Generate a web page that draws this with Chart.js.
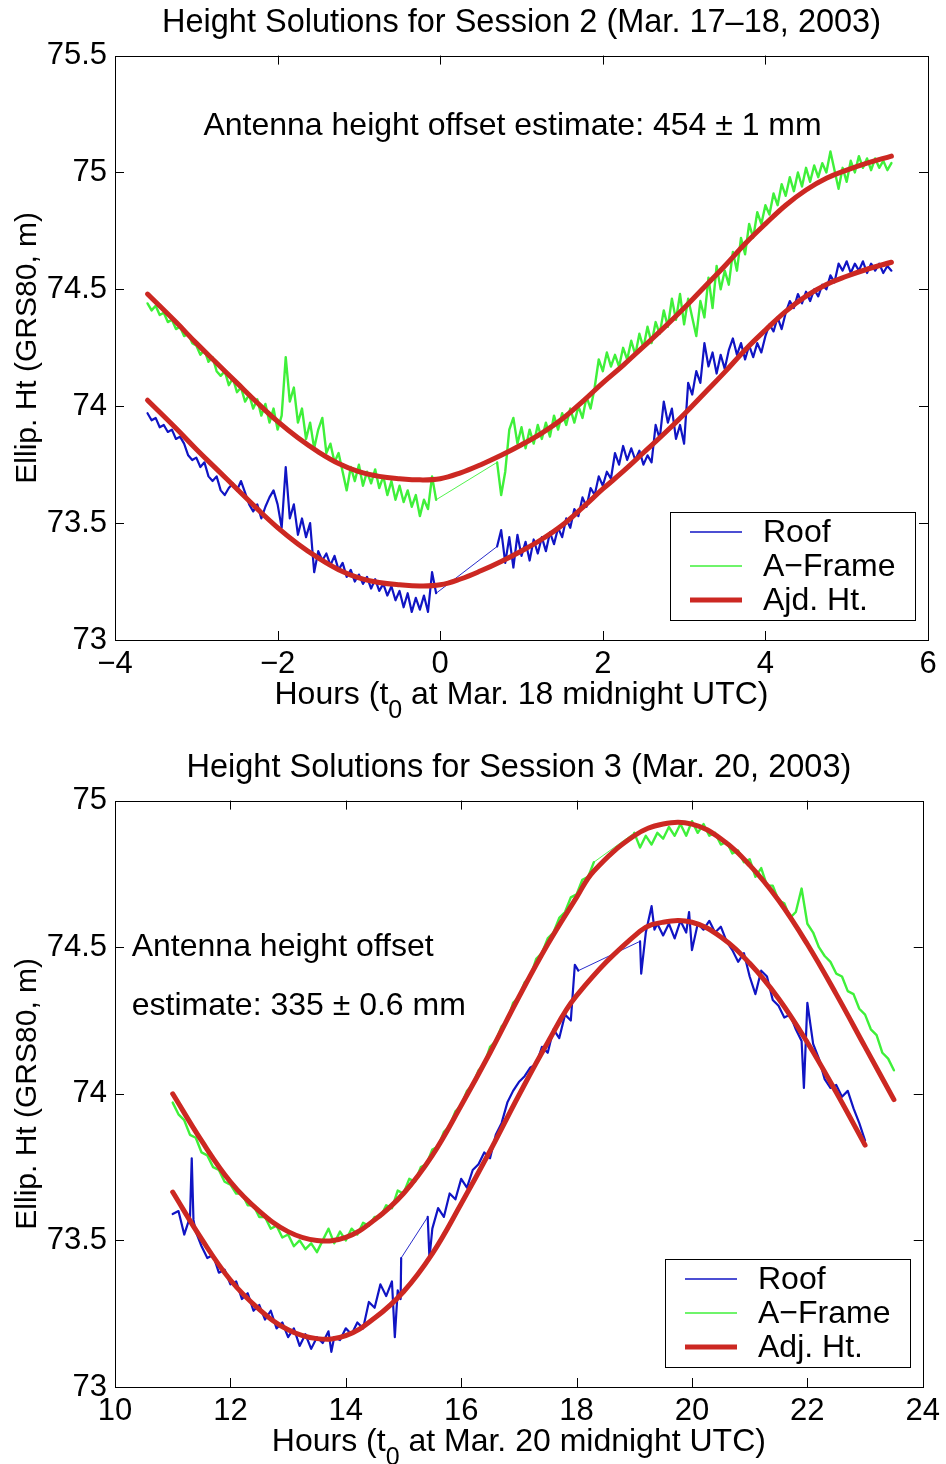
<!DOCTYPE html>
<html>
<head>
<meta charset="utf-8">
<script src="https://cdn.jsdelivr.net/npm/chart.js@4.4.1/dist/chart.umd.min.js"></script>
<style>
html,body{margin:0;padding:0;background:#fff;}
#wrap{position:relative;width:946px;height:1464px;overflow:hidden;}
.box{position:absolute;left:0;width:946px;height:732px;}
canvas{display:block;}
</style>
</head>
<body>
<div id="wrap">
  <div class="box" style="top:0"><canvas id="c1" width="946" height="732"></canvas></div>
  <div class="box" style="top:732px"><canvas id="c2" width="946" height="732"></canvas></div>
</div>
<script>
// ================= Session 2 (Mar. 17-18, 2003) =================
const s2Hours = [
 -3.6,-3.55,-3.5,-3.45,-3.4,-3.35,-3.3,-3.25,-3.2,-3.15,
 -3.1,-3.05,-3,-2.95,-2.9,-2.85,-2.8,-2.75,-2.7,-2.65,
 -2.6,-2.55,-2.5,-2.45,-2.4,-2.35,-2.3,-2.25,-2.2,-2.15,
 -2.1,-2.05,-2,-1.95,-1.9,-1.85,-1.8,-1.75,-1.7,-1.65,
 -1.6,-1.55,-1.5,-1.45,-1.4,-1.35,-1.3,-1.25,-1.2,-1.15,
 -1.1,-1.05,-1,-0.95,-0.9,-0.85,-0.8,-0.75,-0.7,-0.65,
 -0.6,-0.55,-0.5,-0.45,-0.4,-0.35,-0.3,-0.25,-0.2,-0.15,
 -0.1,-0.05,
 0.7,0.75,0.8,0.85,0.9,0.95,1,1.05,1.1,1.15,
 1.2,1.25,1.3,1.35,1.4,1.45,1.5,1.55,1.6,1.65,
 1.7,1.75,1.8,1.85,1.9,1.95,2,2.05,2.1,2.15,
 2.2,2.25,2.3,2.35,2.4,2.45,2.5,2.55,2.6,2.65,
 2.7,2.75,2.8,2.85,2.9,2.95,3,3.05,3.1,3.15,
 3.2,3.25,3.3,3.35,3.4,3.45,3.5,3.55,3.6,3.65,
 3.7,3.75,3.8,3.85,3.9,3.95,4,4.05,4.1,4.15,
 4.2,4.25,4.3,4.35,4.4,4.45,4.5,4.55,4.6,4.65,
 4.7,4.75,4.8,4.85,4.9,4.95,5,5.05,5.1,5.15,
 5.2,5.25,5.3,5.35,5.4,5.45,5.5,5.55
];
const s2AFrame = [
 74.44,74.41,74.43,74.39,74.40,74.36,74.37,74.33,74.34,74.30,
 74.31,74.27,74.26,74.22,74.24,74.19,74.21,74.15,74.13,74.15,
 74.09,74.12,74.06,74.08,74.02,74.05,73.99,74.03,73.96,74.01,
 73.93,73.99,73.90,73.96,74.21,74.02,74.08,73.93,73.99,73.86,
 73.93,73.82,73.90,73.95,73.80,73.84,73.76,73.80,73.72,73.64,
 73.74,73.68,73.75,73.66,73.72,73.67,73.73,73.65,73.70,73.62,
 73.68,73.60,73.66,73.59,73.64,73.57,73.62,73.53,73.60,73.56,
 73.70,73.60,
 73.76,73.62,73.72,73.90,73.95,73.84,73.91,73.82,73.90,73.84,
 73.92,73.86,73.93,73.87,73.96,73.90,73.97,73.92,73.99,73.93,
 74.00,73.95,74.04,73.99,74.08,74.20,74.15,74.23,74.17,74.22,
 74.17,74.25,74.20,74.28,74.22,74.31,74.25,74.34,74.27,74.36,
 74.31,74.41,74.34,74.46,74.37,74.48,74.35,74.46,74.38,74.30,
 74.45,74.38,74.55,74.42,74.60,74.50,74.58,74.52,74.66,74.58,
 74.72,74.65,74.78,74.72,74.83,74.78,74.86,74.82,74.91,74.86,
 74.95,74.90,74.98,74.92,75.00,74.94,75.02,74.96,75.03,74.98,
 75.04,75.00,75.09,75.01,74.93,75.02,74.96,75.05,75.00,75.07,
 75.02,75.06,75.01,75.06,75.02,75.05,75.01,75.04
];
const s2Roof = [
 73.97,73.94,73.95,73.91,73.92,73.89,73.90,73.86,73.87,73.84,
 73.79,73.77,73.78,73.74,73.76,73.70,73.68,73.70,73.64,73.62,
 73.65,73.67,73.64,73.68,73.63,73.58,73.55,73.58,73.52,73.57,
 73.61,73.64,73.58,73.48,73.74,73.52,73.58,73.45,73.52,73.44,
 73.50,73.29,73.38,73.34,73.37,73.32,73.36,73.30,73.33,73.27,
 73.30,73.25,73.28,73.24,73.27,73.22,73.26,73.21,73.24,73.19,
 73.23,73.17,73.21,73.14,73.20,73.12,73.18,73.13,73.19,73.12,
 73.29,73.20,
 73.40,73.47,73.33,73.44,73.31,73.45,73.36,73.42,73.34,73.43,
 73.37,73.44,73.38,73.46,73.41,73.48,73.44,73.52,73.48,73.56,
 73.53,73.61,73.57,73.65,73.62,73.70,73.66,73.72,73.69,73.80,
 73.75,73.83,73.77,73.82,73.77,73.81,73.75,73.79,73.76,73.92,
 73.86,74.02,73.93,73.99,73.86,73.92,73.84,74.10,74.05,74.15,
 74.10,74.27,74.17,74.23,74.14,74.22,74.16,74.24,74.29,74.22,
 74.27,74.20,74.26,74.21,74.27,74.23,74.30,74.35,74.32,74.38,
 74.33,74.40,74.45,74.42,74.48,74.44,74.49,74.45,74.50,74.47,
 74.52,74.50,74.56,74.53,74.61,74.58,74.62,74.57,74.61,74.58,
 74.62,74.57,74.61,74.58,74.61,74.57,74.60,74.58
];
const s2FitHours = [
 -3.6,-3.25,-3,-2.75,-2.5,-2.25,-2,-1.75,-1.5,-1.25,-1,-0.75,-0.5,-0.25,0,
 0.25,0.5,0.75,1,1.25,1.5,1.75,2,2.25,2.5,2.75,3,3.25,3.5,3.75,4,4.25,4.5,4.75,5,5.25,5.55
];
const s2FitAFrame = [
 74.48,74.36,74.27,74.185,74.10,74.015,73.935,73.865,73.805,73.755,73.72,73.70,73.69,73.685,73.69,
 73.715,73.75,73.79,73.835,73.885,73.945,74.02,74.10,74.175,74.255,74.335,74.42,74.51,74.60,74.695,74.78,74.86,74.925,74.975,75.01,75.04,75.07
];
const s2FitRoof = [
 74.026,73.906,73.816,73.731,73.646,73.561,73.481,73.411,73.351,73.301,73.266,73.246,73.236,73.231,73.236,
 73.261,73.296,73.336,73.381,73.431,73.491,73.566,73.646,73.721,73.801,73.881,73.966,74.056,74.146,74.241,74.326,74.406,74.471,74.521,74.556,74.586,74.616
];

// ================= Session 3 (Mar. 20, 2003) =================
const s3AFrameHours = [
 11,11.1,11.2,11.3,11.4,11.5,11.6,11.7,11.8,11.9,
 12,12.1,12.2,12.3,12.4,12.5,12.6,12.7,12.8,12.9,
 13,13.1,13.2,13.3,13.4,13.5,13.6,13.7,13.8,13.9,
 14,14.1,14.2,14.3,14.4,14.5,14.6,14.7,14.8,14.9,
 15,15.1,15.2,15.3,15.4,15.5,15.6,15.7,15.8,15.9,
 16,16.1,16.2,16.3,16.4,16.5,16.6,16.7,16.8,16.9,
 17,17.1,17.2,17.3,17.4,17.5,17.6,17.7,17.8,17.9,
 18,18.1,18.2,18.3,
 19,19.1,19.2,19.3,19.4,19.5,19.6,19.7,19.8,19.9,
 20,20.1,20.2,20.3,20.4,20.5,20.6,20.7,20.8,20.9,
 21,21.1,21.2,21.3,21.4,21.5,21.6,21.7,21.8,21.9,
 22,22.1,22.2,22.3,22.4,22.5,22.6,22.7,22.8,22.9,
 23,23.1,23.2,23.3,23.4,23.5
];
const s3AFrame = [
 73.97,73.93,73.91,73.86,73.85,73.80,73.79,73.75,73.74,73.70,
 73.69,73.66,73.66,73.62,73.62,73.58,73.58,73.54,73.55,73.51,
 73.52,73.48,73.50,73.47,73.49,73.46,73.50,73.54,73.49,73.53,
 73.50,73.54,73.52,73.56,73.55,73.58,73.58,73.62,73.61,73.67,
 73.66,73.71,73.70,73.75,73.76,73.81,73.82,73.87,73.89,73.94,
 73.96,74.01,74.03,74.08,74.10,74.16,74.18,74.23,74.25,74.31,
 74.33,74.38,74.40,74.46,74.48,74.53,74.55,74.60,74.62,74.67,
 74.68,74.73,74.74,74.79,
 74.89,74.84,74.88,74.85,74.89,74.87,74.91,74.88,74.92,74.88,
 74.93,74.89,74.92,74.88,74.89,74.85,74.86,74.82,74.83,74.79,
 74.80,74.74,74.77,74.71,74.71,74.66,74.65,74.60,74.62,74.70,
 74.58,74.55,74.50,74.47,74.45,74.41,74.40,74.35,74.34,74.29,
 74.27,74.22,74.20,74.14,74.12,74.08
];
const s3RoofHours = [
 11,11.1,11.2,11.3,11.33,11.36,11.4,11.5,11.6,11.7,
 11.8,11.9,12,12.1,12.2,12.3,12.4,12.5,12.6,12.7,
 12.8,12.9,13,13.1,13.2,13.3,13.4,13.5,13.6,13.7,
 13.75,13.8,13.9,14,14.1,14.2,14.3,14.4,14.5,14.6,
 14.7,14.8,14.85,14.9,14.95,14.96,15.42,15.45,15.5,15.6,
 15.7,15.8,15.9,16,16.1,16.2,16.3,16.4,16.5,16.6,
 16.7,16.8,16.9,17,17.1,17.2,17.3,17.4,17.5,17.6,
 17.7,17.8,17.9,17.97,18.03,19.1,19.12,19.2,19.3,19.35,
 19.4,19.5,19.6,19.7,19.8,19.9,19.95,20,20.1,20.2,
 20.3,20.4,20.5,20.6,20.7,20.8,20.9,21,21.1,21.2,
 21.3,21.4,21.5,21.6,21.7,21.8,21.9,21.94,22,22.1,
 22.2,22.3,22.4,22.5,22.6,22.7,22.8,22.9,23
];
const s3Roof = [
 73.59,73.60,73.52,73.58,73.78,73.57,73.53,73.48,73.44,73.45,
 73.39,73.40,73.35,73.36,73.30,73.32,73.26,73.28,73.23,73.26,
 73.20,73.22,73.17,73.20,73.14,73.18,73.13,73.17,73.15,73.19,
 73.12,73.17,73.16,73.20,73.18,73.22,73.20,73.29,73.27,73.35,
 73.31,73.36,73.17,73.33,73.30,73.44,73.58,73.44,73.54,73.61,
 73.58,73.66,73.64,73.71,73.68,73.74,73.76,73.80,73.78,73.86,
 73.90,73.97,74.01,74.04,74.06,74.09,74.10,74.16,74.14,74.22,
 74.19,74.27,74.25,74.44,74.42,74.52,74.41,74.55,74.64,74.56,
 74.58,74.54,74.58,74.53,74.59,74.55,74.62,74.49,74.58,74.56,
 74.59,74.55,74.57,74.52,74.49,74.45,74.48,74.40,74.34,74.42,
 74.40,74.32,74.30,74.26,74.27,74.22,74.18,74.02,74.31,74.17,
 74.12,74.05,74.02,74.03,73.99,74.01,73.95,73.90,73.84
];
const s3FitAFrameHours = [11,11.5,12,12.5,13,13.5,14,14.5,15,15.5,16,16.5,17,17.5,18,18.3,19,19.5,20,20.5,21,21.5,22,22.5,23,23.5];
const s3FitAFrame = [74.00,73.84,73.70,73.60,73.53,73.50,73.51,73.57,73.66,73.79,73.96,74.14,74.33,74.51,74.67,74.76,74.88,74.92,74.92,74.87,74.78,74.66,74.51,74.34,74.16,73.98];
const s3FitRoofHours = [11,11.5,12,12.5,13,13.5,14,14.5,15,15.5,16,16.5,17,17.5,18,19.1,19.5,20,20.5,21,21.5,22,22.5,23];
const s3FitRoof = [73.665,73.505,73.365,73.265,73.195,73.165,73.175,73.235,73.325,73.455,73.625,73.805,73.995,74.175,74.335,74.555,74.585,74.585,74.535,74.445,74.325,74.175,74.005,73.825];

// ================= Texts =================
const s2Title = 'Height Solutions for Session 2 (Mar. 17\u201318, 2003)';
const s3Title = 'Height Solutions for Session 3 (Mar. 20, 2003)';
const yTitle = 'Ellip. Ht (GRS80, m)';
const s2XTitle = ['Hours (t', '0', ' at Mar. 18 midnight UTC)'];
const s3XTitle = ['Hours (t', '0', ' at Mar. 20 midnight UTC)'];
const s2Legend = ['Roof', 'A\u2212Frame', 'Ajd. Ht.'];
const s3Legend = ['Roof', 'A\u2212Frame', 'Adj. Ht.'];
const s2Notes = [{text: 'Antenna height offset estimate: 454 \u00b1 1 mm', x: 0.89, y: 75.2, align: 'center'}];
const s3Notes = [
  {text: 'Antenna height offset', x: 10.29, y: 74.5, align: 'left'},
  {text: 'estimate: 335 \u00b1 0.6 mm', x: 10.29, y: 74.3, align: 'left'}
];

// ================= Styling =================
const FONT = '"Liberation Sans", Arial, Helvetica, sans-serif';
const BLUE = '#1014c4';
const GREEN = '#3ff03a';
const RED = '#cc2822';
Chart.defaults.font.family = FONT;
Chart.defaults.color = '#000';

function pts(xs, ys) { return xs.map((x, i) => ({x: x, y: ys[i]})); }

const decor = {
  id: 'decor',
  afterDraw(chart, args, o) {
    const ctx = chart.ctx, a = chart.chartArea, xs = chart.scales.x, ys = chart.scales.y;
    ctx.save();
    // legend box
    const L = o.legend;
    const bx = Math.round(a.right - L.right - L.width), by = Math.round(a.bottom - L.bottom - L.height);
    ctx.fillStyle = '#fff';
    ctx.fillRect(bx, by, L.width, L.height);
    ctx.strokeStyle = '#000'; ctx.lineWidth = 1;
    ctx.strokeRect(bx + 0.5, by + 0.5, L.width, L.height);
    ctx.font = '32px ' + FONT; ctx.textBaseline = 'middle'; ctx.textAlign = 'left';
    L.entries.forEach((e, i) => {
      const yy = by + 20 + i * 34;
      ctx.beginPath(); ctx.strokeStyle = e.color; ctx.lineWidth = e.width;
      ctx.moveTo(bx + 20, yy); ctx.lineTo(bx + 72, yy); ctx.stroke();
      ctx.fillStyle = '#000'; ctx.fillText(e.label, bx + 93, yy + 1);
    });
    // frame and inward ticks
    ctx.strokeStyle = '#000'; ctx.lineWidth = 1;
    ctx.strokeRect(Math.round(a.left) + 0.5, Math.round(a.top) + 0.5, Math.round(a.right - a.left), Math.round(a.bottom - a.top));
    ctx.beginPath();
    const T = 9;
    xs.ticks.forEach(t => {
      if (t.value === xs.min || t.value === xs.max) return;
      const p = Math.round(xs.getPixelForValue(t.value)) + 0.5;
      ctx.moveTo(p, a.bottom); ctx.lineTo(p, a.bottom - T);
      ctx.moveTo(p, a.top); ctx.lineTo(p, a.top + T);
    });
    ys.ticks.forEach(t => {
      if (t.value === ys.min || t.value === ys.max) return;
      const p = Math.round(ys.getPixelForValue(t.value)) + 0.5;
      ctx.moveTo(a.left, p); ctx.lineTo(a.left + T, p);
      ctx.moveTo(a.right, p); ctx.lineTo(a.right - T, p);
    });
    ctx.stroke();
    // notes
    ctx.fillStyle = '#000'; ctx.font = '32px ' + FONT; ctx.textBaseline = 'middle';
    o.notes.forEach(n => {
      ctx.textAlign = n.align;
      ctx.fillText(n.text, xs.getPixelForValue(n.x), ys.getPixelForValue(n.y));
    });
    // x title with subscript
    const parts = o.xTitle;
    const mainF = '32px ' + FONT, subF = '25px ' + FONT;
    ctx.font = mainF; const w0 = ctx.measureText(parts[0]).width, w2 = ctx.measureText(parts[2]).width;
    ctx.font = subF; const w1 = ctx.measureText(parts[1]).width;
    let x0 = (a.left + a.right) / 2 - (w0 + w1 + w2) / 2;
    const base = a.bottom + 64;
    ctx.textAlign = 'left'; ctx.textBaseline = 'alphabetic';
    ctx.font = mainF; ctx.fillText(parts[0], x0, base);
    ctx.font = subF; ctx.fillText(parts[1], x0 + w0, base + 14);
    ctx.font = mainF; ctx.fillText(parts[2], x0 + w0 + w1, base);
    ctx.restore();
  }
};

function gapWidth(thin, normal) {
  return ctx => (ctx.p1.parsed.x - ctx.p0.parsed.x > 0.3 ? thin : normal);
}

function build(id, c) {
  return new Chart(document.getElementById(id), {
    type: 'line',
    data: {
      datasets: [
        {label: 'fitA', data: pts(c.fitAH, c.fitA), borderColor: RED, borderWidth: 5, tension: 0.4, order: 0},
        {label: 'fitR', data: pts(c.fitRH, c.fitR), borderColor: RED, borderWidth: 5, tension: 0.4, order: 0},
        {label: 'A-Frame', data: pts(c.aH, c.a), borderColor: GREEN, borderWidth: 2.4, tension: 0, order: 2,
         segment: {borderWidth: gapWidth(0.9, 2.4)}},
        {label: 'Roof', data: pts(c.rH, c.r), borderColor: BLUE, borderWidth: 2.2, tension: 0, order: 1,
         segment: {borderWidth: gapWidth(0.9, 2.2)}}
      ]
    },
    options: {
      responsive: false, animation: false, devicePixelRatio: 1,
      layout: {padding: {left: 0, right: 18, top: 0, bottom: 0}},
      elements: {point: {radius: 0}, line: {borderJoinStyle: 'round', borderCapStyle: 'round'}},
      plugins: {
        legend: {display: false},
        tooltip: {enabled: false},
        title: {display: true, text: c.title, fullSize: false, color: '#000',
                font: {size: 32.5, weight: 'normal', family: FONT}, padding: {top: c.tTop, bottom: c.tBot}},
        decor: {
          legend: {right: 13, bottom: 20, width: 245, height: 108, entries: [
            {label: c.legend[0], color: BLUE, width: 1.5},
            {label: c.legend[1], color: GREEN, width: 1.5},
            {label: c.legend[2], color: RED, width: 5}
          ]},
          notes: c.notes,
          xTitle: c.xTitle
        }
      },
      scales: {
        x: {type: 'linear', min: c.xMin, max: c.xMax,
            grid: {display: false, drawTicks: false}, border: {display: false},
            ticks: {stepSize: 2, padding: 6, font: {size: 31}, maxRotation: 0, autoSkip: false,
                    callback: v => String(v).replace('-', '\u2212')},
            afterFit: s => { s.height = c.xH; }},
        y: {type: 'linear', min: c.yMin, max: c.yMax,
            grid: {display: false, drawTicks: false}, border: {display: false},
            ticks: {stepSize: 0.5, padding: 8, font: {size: 31}, autoSkip: false, callback: v => String(v)},
            title: {display: true, text: yTitle, font: {size: 30}, padding: {top: 10, bottom: 0}},
            afterFit: s => { s.width = 115; }}
      }
    },
    plugins: [decor]
  });
}

build('c1', {
  title: s2Title, tTop: 4, tBot: 12.6, xH: 92,
  xMin: -4, xMax: 6, yMin: 73, yMax: 75.5,
  fitAH: s2FitHours, fitA: s2FitAFrame, fitRH: s2FitHours, fitR: s2FitRoof,
  aH: s2Hours, a: s2AFrame, rH: s2Hours, r: s2Roof,
  legend: s2Legend, notes: s2Notes, xTitle: s2XTitle
});
build('c2', {
  title: s3Title, tTop: 16.8, tBot: 12.8, xH: 77,
  xMin: 10, xMax: 24, yMin: 73, yMax: 75,
  fitAH: s3FitAFrameHours, fitA: s3FitAFrame, fitRH: s3FitRoofHours, fitR: s3FitRoof,
  aH: s3AFrameHours, a: s3AFrame, rH: s3RoofHours, r: s3Roof,
  legend: s3Legend, notes: s3Notes, xTitle: s3XTitle
});
</script>
</body>
</html>
